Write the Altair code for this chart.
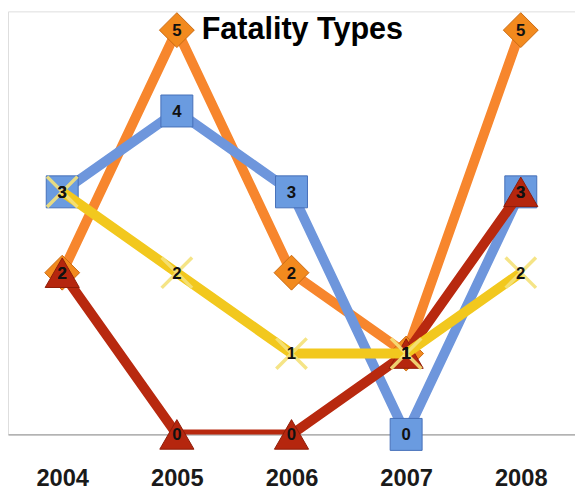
import altair as alt
import pandas as pd

years = ["2004", "2005", "2006", "2007", "2008"]
series_names = ["Orange", "Blue", "Red", "Yellow"]
orange_vals = [2, 5, 2, 1, 5]
blue_vals = [3, 4, 3, 0, 3]
red_vals = [2, 0, 0, 1, 3]
yellow_vals = [3, 2, 1, 1, 2]
title_text = "Fatality Types"

line_colors = {"Orange": "#F7862D", "Blue": "#6E96DC", "Red": "#B8290F", "Yellow": "#F2C81E"}
fill_colors = {"Orange": "#F28A1E", "Blue": "#6A9BE0", "Red": "#B5260E", "Yellow": "#F5E27A"}
stroke_colors = {"Orange": "#C96A12", "Blue": "#4670B8", "Red": "#8E1C08", "Yellow": "#F0D860"}
shapes = {"Orange": "diamond", "Blue": "square", "Red": "triangle-up",
          "Yellow": "M-1,-1L1,1M-1,1L1,-1"}
sizes = {"Orange": 1250, "Blue": 1050, "Red": 1200, "Yellow": 950}

vals = {"Orange": orange_vals, "Blue": blue_vals, "Red": red_vals, "Yellow": yellow_vals}
rows = []
for s in series_names:
    for y, v in zip(years, vals[s]):
        rows.append({"series": s, "year": y, "value": v})
df = pd.DataFrame(rows)

x_enc = alt.X("year:N", scale=alt.Scale(type="point", padding=0.473), sort=years,
              axis=alt.Axis(title=None, labelAngle=0, ticks=False, domain=True,
                            domainColor="#A0A0A0", domainWidth=1.2, labelFontSize=24,
                            labelFont="Liberation Sans", labelFontWeight="bold",
                            labelColor="#1A1A1A", labelPadding=33, grid=False))
y_enc = alt.Y("value:Q", scale=alt.Scale(domain=[0, 5.232], nice=False, zero=True), axis=None)

layers = []
for s in series_names:
    d = df[df.series == s]
    base = alt.Chart(d)
    line = base.mark_line(color=line_colors[s], strokeWidth=10, clip=True,
                          strokeJoin="round").encode(x=x_enc, y=y_enc)
    if s == "Yellow":
        pt = base.mark_point(shape=shapes[s], size=sizes[s], filled=False,
                             stroke=fill_colors[s], strokeWidth=3.5, opacity=0.9).encode(x=x_enc, y=y_enc)
    else:
        pt = base.mark_point(shape=shapes[s], size=sizes[s], filled=True, fill=fill_colors[s],
                             stroke=stroke_colors[s], strokeWidth=1, opacity=1).encode(x=x_enc, y=y_enc)
    layers += [line, pt]

labels = alt.Chart(df).mark_text(font="Liberation Sans", fontWeight="bold", fontSize=17,
                                 color="#111111", baseline="middle", align="center", dy=1).encode(
    x=x_enc, y=y_enc, text="value:Q")
layers.append(labels)

chart = alt.layer(*layers).properties(
    width=575, height=429,
    title=alt.TitleParams(title_text, font="Liberation Sans", fontSize=31, fontWeight="bold",
                          color="#000000", anchor="middle", offset=-60, dx=11,
                          baseline="alphabetic"),
    autosize=alt.AutoSizeParams(type="none"),
    padding={"left": 0, "top": 0, "right": 0, "bottom": 56},
).configure_view(stroke=None).configure(background="white")

chart.save("out.html", embed_options={"renderer": "svg", "actions": False})
